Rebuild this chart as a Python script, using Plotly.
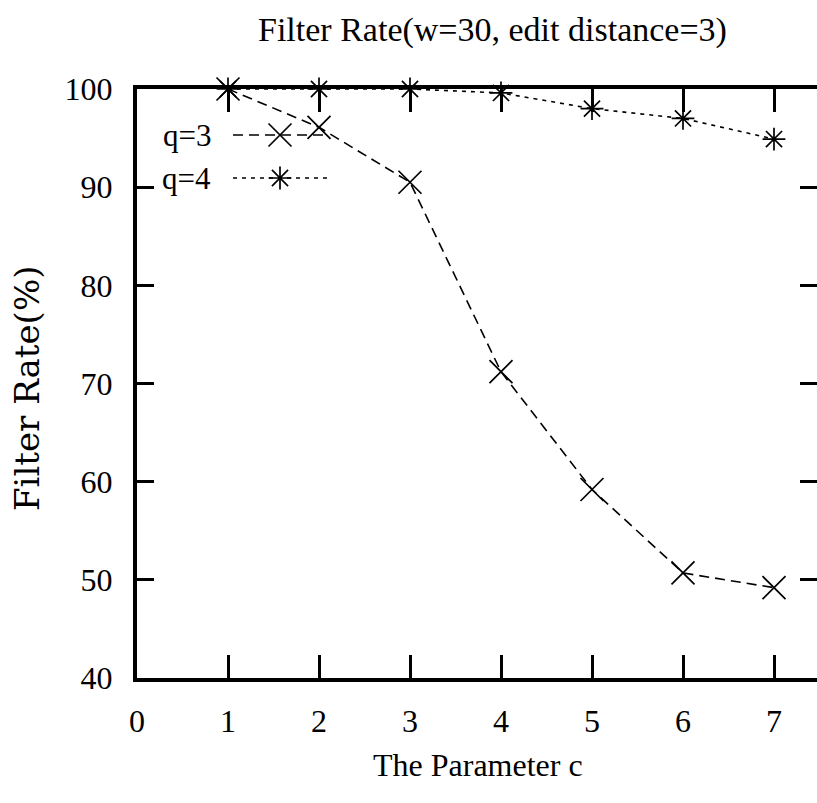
import plotly.graph_objects as go

# Parameter c on the x axis, filter rate (%) on the y axis
c_values = [1, 2, 3, 4, 5, 6, 7]
q3_rate = [100.0, 96.1, 90.5, 71.2, 59.2, 50.7, 49.2]
q4_rate = [100.0, 100.0, 100.0, 99.6, 98.0, 97.0, 94.9]

x_ticks = [0, 1, 2, 3, 4, 5, 6, 7]
y_ticks = [40, 50, 60, 70, 80, 90, 100]

series_names = ["q=3", "q=4"]

W, H = 817, 803
L, R, T, B = 137, 0, 89, 125
PLOT_W = W - L - R
PLOT_H = H - T - B
PX_PER_C = 91.0

SERIF = "Liberation Serif, Times New Roman, serif"
INK = "#000000"

Q3_LINE = dict(color=INK, width=1.6, dash="10px,6px")
Q4_LINE = dict(color=INK, width=1.6, dash="4px,5px")
Q3_MARK = dict(symbol="x-thin", size=23, line=dict(color=INK, width=1.7))
Q4_MARK = dict(symbol="asterisk", size=19, line=dict(color=INK, width=1.7))

fig = go.Figure()

# data series
fig.add_trace(go.Scatter(
    x=c_values, y=q3_rate, mode="lines+markers", name=series_names[0],
    line=Q3_LINE, marker=Q3_MARK, cliponaxis=False, showlegend=False,
))
fig.add_trace(go.Scatter(
    x=c_values, y=q4_rate, mode="lines+markers", name=series_names[1],
    line=Q4_LINE, marker=Q4_MARK, cliponaxis=False, showlegend=False,
))

# key samples, drawn on a unit overlay axis pair
def px_to_unit_x(px):
    return (px - L) / PLOT_W

def px_to_unit_y(py):
    return (T + PLOT_H - py) / PLOT_H

key_rows = [
    (series_names[0], 135, Q3_LINE, Q3_MARK),
    (series_names[1], 178, Q4_LINE, Q4_MARK),
]
for name, py, line_style, marker_style in key_rows:
    yk = px_to_unit_y(py)
    fig.add_trace(go.Scatter(
        x=[px_to_unit_x(233), px_to_unit_x(327)], y=[yk, yk],
        mode="lines", line=line_style, xaxis="x2", yaxis="y3",
        showlegend=False, hoverinfo="skip", cliponaxis=False,
    ))
    fig.add_trace(go.Scatter(
        x=[px_to_unit_x(280)], y=[yk], mode="markers", marker=marker_style,
        xaxis="x2", yaxis="y3", showlegend=False, hoverinfo="skip",
        cliponaxis=False,
    ))
    fig.add_annotation(
        text=name, xref="x2", yref="y3", x=px_to_unit_x(213), y=yk,
        xanchor="right", yanchor="middle", showarrow=False,
        font=dict(family=SERIF, size=31, color=INK),
    )

# right-hand inner ticks (no border line on that side)
fig.add_trace(go.Scatter(
    x=[c_values[0]], y=[q3_rate[0]], mode="markers", yaxis="y2",
    marker=dict(opacity=0), showlegend=False, hoverinfo="skip",
))

x_max = PLOT_W / PX_PER_C

fig.update_layout(
    width=W, height=H,
    margin=dict(l=L, r=R, t=T, b=B),
    paper_bgcolor="white", plot_bgcolor="white",
    showlegend=False,
    font=dict(family=SERIF, size=31, color=INK),
    xaxis=dict(
        range=[0, x_max], tickvals=x_ticks, ticktext=[str(v) for v in x_ticks],
        showline=True, linecolor=INK, linewidth=4, mirror="ticks",
        ticks="inside", ticklen=23, tickwidth=3, tickcolor=INK,
        showgrid=False, zeroline=False, ticklabelstandoff=12,
        tickfont=dict(family=SERIF, size=32, color=INK),
    ),
    yaxis=dict(
        range=[40, 100], tickvals=y_ticks, ticktext=[str(v) for v in y_ticks],
        showline=True, linecolor=INK, linewidth=4, mirror=False,
        ticks="inside", ticklen=17, tickwidth=3, tickcolor=INK,
        showgrid=False, zeroline=False, ticklabelstandoff=14,
        tickfont=dict(family=SERIF, size=32, color=INK),
    ),
    yaxis2=dict(
        range=[40, 100], tickvals=y_ticks, overlaying="y", side="right",
        anchor="x", showline=False, ticks="inside", ticklen=17, tickwidth=3,
        tickcolor=INK, showticklabels=False, showgrid=False, zeroline=False,
    ),
    xaxis2=dict(range=[0, 1], overlaying="x", visible=False),
    yaxis3=dict(range=[0, 1], overlaying="y", visible=False, anchor="x2"),
)

# titles
fig.add_annotation(
    text="Filter Rate(w=30, edit distance=3)", xref="paper", yref="paper",
    x=px_to_unit_x(492), y=1 + (T - 30) / PLOT_H, xanchor="center",
    yanchor="middle", showarrow=False,
    font=dict(family=SERIF, size=34, color=INK),
)
fig.add_annotation(
    text="The Parameter c", xref="paper", yref="paper",
    x=px_to_unit_x(478), y=-(765 - T - PLOT_H) / PLOT_H, xanchor="center",
    yanchor="middle", showarrow=False,
    font=dict(family=SERIF, size=32, color=INK),
)
fig.add_annotation(
    text="Filter Rate(%)", xref="paper", yref="paper",
    x=-(L - 27) / PLOT_W, y=px_to_unit_y(389), xanchor="center",
    yanchor="middle", textangle=-90, showarrow=False,
    font=dict(family="DejaVu Serif, serif", size=34, color=INK),
)

fig.write_html("out.html")
